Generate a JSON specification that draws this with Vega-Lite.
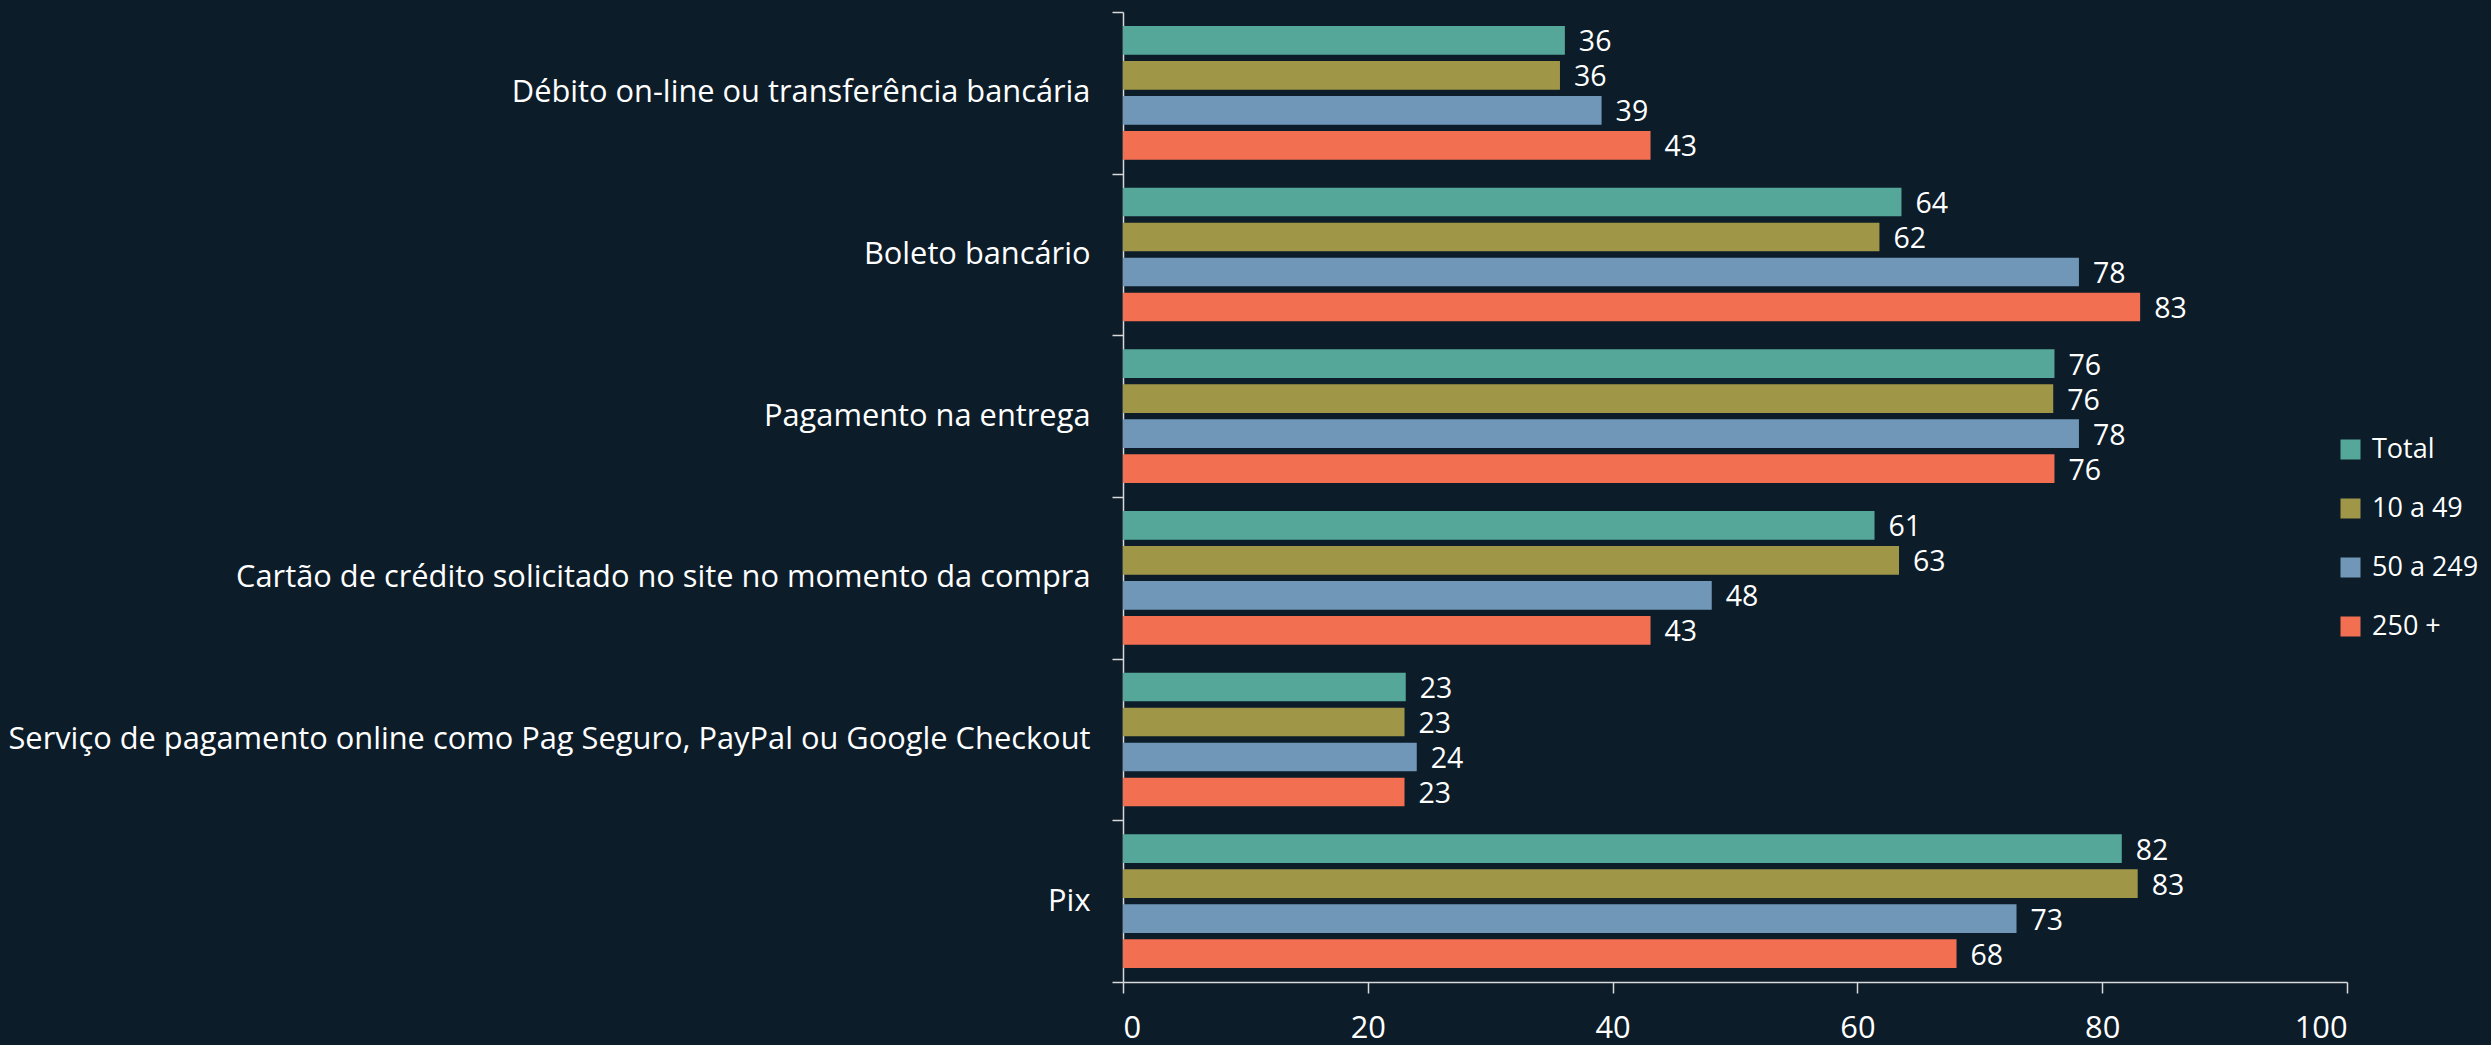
{
  "$schema": "https://vega.github.io/schema/vega-lite/v6.json",
  "autosize": {"type": "none"},
  "width": 1224,
  "height": 970,
  "padding": {"left": 1123, "top": 12, "right": 144, "bottom": 63},
  "background": "#0C1C28",
  "config": {
    "view": {"stroke": null},
    "font": "Open Sans",
    "axis": {"labelFont": "Open Sans", "labelColor": "#FFFFFF", "domainColor": "#D9D9D9", "tickColor": "#D9D9D9", "grid": false, "title": null, "labelFontSize": 30.8, "tickSize": 11, "domainWidth": 1.5, "tickWidth": 1.5},
    "legend": {"labelFont": "Open Sans", "labelColor": "#FFFFFF", "labelFontSize": 27}
  },
  "data": {
    "values": [
      {"cat": "Débito on-line ou transferência bancária", "grp": "Total", "v": 36.1},
      {"cat": "Débito on-line ou transferência bancária", "grp": "10 a 49", "v": 35.7},
      {"cat": "Débito on-line ou transferência bancária", "grp": "50 a 249", "v": 39.1},
      {"cat": "Débito on-line ou transferência bancária", "grp": "250 +", "v": 43.1},
      {"cat": "Boleto bancário\u00a0", "grp": "Total", "v": 63.6},
      {"cat": "Boleto bancário\u00a0", "grp": "10 a 49", "v": 61.8},
      {"cat": "Boleto bancário\u00a0", "grp": "50 a 249", "v": 78.1},
      {"cat": "Boleto bancário\u00a0", "grp": "250 +", "v": 83.1},
      {"cat": "Pagamento na entrega", "grp": "Total", "v": 76.1},
      {"cat": "Pagamento na entrega", "grp": "10 a 49", "v": 76.0},
      {"cat": "Pagamento na entrega", "grp": "50 a 249", "v": 78.1},
      {"cat": "Pagamento na entrega", "grp": "250 +", "v": 76.1},
      {"cat": "Cartão de crédito solicitado no site no momento da compra", "grp": "Total", "v": 61.4},
      {"cat": "Cartão de crédito solicitado no site no momento da compra", "grp": "10 a 49", "v": 63.4},
      {"cat": "Cartão de crédito solicitado no site no momento da compra", "grp": "50 a 249", "v": 48.1},
      {"cat": "Cartão de crédito solicitado no site no momento da compra", "grp": "250 +", "v": 43.1},
      {"cat": "Serviço de pagamento online como Pag Seguro, PayPal ou Google Checkout", "grp": "Total", "v": 23.1},
      {"cat": "Serviço de pagamento online como Pag Seguro, PayPal ou Google Checkout", "grp": "10 a 49", "v": 23.0},
      {"cat": "Serviço de pagamento online como Pag Seguro, PayPal ou Google Checkout", "grp": "50 a 249", "v": 24.0},
      {"cat": "Serviço de pagamento online como Pag Seguro, PayPal ou Google Checkout", "grp": "250 +", "v": 23.0},
      {"cat": "Pix", "grp": "Total", "v": 81.6},
      {"cat": "Pix", "grp": "10 a 49", "v": 82.9},
      {"cat": "Pix", "grp": "50 a 249", "v": 73.0},
      {"cat": "Pix", "grp": "250 +", "v": 68.1}
    ]
  },
  "encoding": {
    "y": {
      "field": "cat", "type": "nominal",
      "sort": ["Débito on-line ou transferência bancária", "Boleto bancário\u00a0", "Pagamento na entrega", "Cartão de crédito solicitado no site no momento da compra", "Serviço de pagamento online como Pag Seguro, PayPal ou Google Checkout", "Pix"],
      "scale": {"paddingInner": 0, "paddingOuter": 0},
      "axis": {"tickBand": "extent", "labelPadding": 22, "labelLimit": 1200}
    },
    "yOffset": {
      "field": "grp", "type": "nominal",
      "sort": ["Total", "10 a 49", "50 a 249", "250 +"],
      "scale": {"paddingInner": 0.18, "paddingOuter": 0.4}
    }
  },
  "layer": [
    {
      "mark": {"type": "bar"},
      "encoding": {
        "x": {"field": "v", "type": "quantitative", "scale": {"domain": [0, 100], "nice": false}, "axis": {"values": [0, 20, 40, 60, 80, 100], "labelPadding": 20}},
        "color": {
          "field": "grp", "type": "nominal",
          "sort": ["Total", "10 a 49", "50 a 249", "250 +"],
          "scale": {"domain": ["Total", "10 a 49", "50 a 249", "250 +"], "range": ["#55A899", "#A09648", "#7097B8", "#F26F52"]},
          "legend": {"title": null, "orient": "none", "legendX": 1214, "legendY": 424, "symbolType": "square", "symbolSize": 400, "symbolStrokeWidth": 0, "rowPadding": 31, "labelOffset": 8, "padding": 0}
        }
      }
    },
    {
      "mark": {"type": "text", "align": "left", "baseline": "middle", "dx": 14, "dy": 2, "fontSize": 28.5, "color": "#FFFFFF"},
      "encoding": {
        "x": {"field": "v", "type": "quantitative"},
        "text": {"field": "v", "type": "quantitative", "format": ".0f"}
      }
    }
  ]
}
